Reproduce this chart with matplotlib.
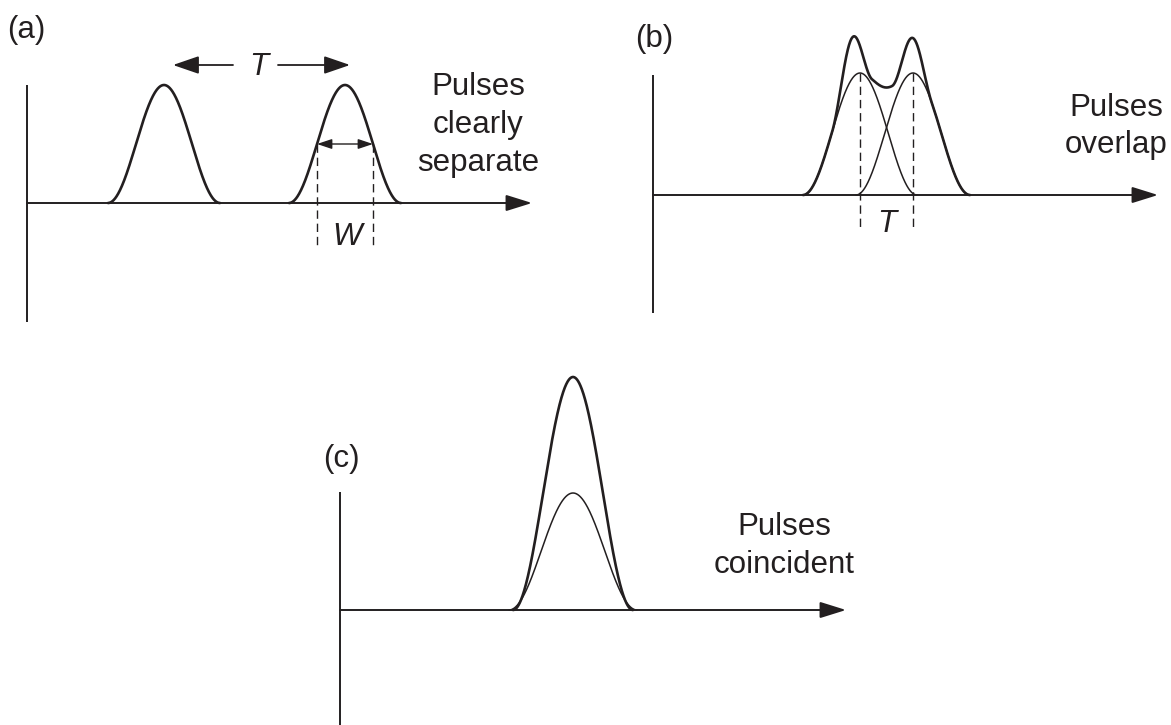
import numpy as np
import matplotlib
matplotlib.use('Agg')
import matplotlib.pyplot as plt

plt.rcParams['font.family'] = ['Liberation Sans', 'DejaVu Sans']

INK = '#231f20'
FONT_SIZE = 22.5

# pulse data, read off the picture (pixel units, measured from each panel's origin)
# (a) two pulses clearly separate
a_centers = [137, 318]
a_half_width = 56
a_height = 118

# (b) two pulses overlapping, plus the observed (summed) envelope
b_centers = [207, 260]
b_half_width = 57
b_height = 122
b_bump_centers = [199, 259]
b_bump_heights = [41, 35]
b_bump_half_width = 20
b_norm_power = 1.5

# (c) pulses coincident
c_center = 233
c_half_width = 64
c_height = 117
c_sum_half_width = 60
c_sum_height = 233

# panel layout: origin of the axes, top of y axis, bottom of y axis, arrow tip
panels = {
    'a': dict(origin=(27, 203), y_top=85, y_bottom=322, x_tip=532),
    'b': dict(origin=(653, 195), y_top=75, y_bottom=313, x_tip=1158),
    'c': dict(origin=(340, 610), y_top=492, y_bottom=725, x_tip=846),
}


def pulse(x, center, half_width, height):
    dx = x - center
    y = height * (0.5 + 0.5 * np.cos(np.pi * dx / half_width))
    return np.where(np.abs(dx) < half_width, y, 0.0)


def draw_axes(ax, p):
    x0, y0 = p['origin']
    ax.plot([x0, x0], [p['y_top'], p['y_bottom']], color=INK, lw=1.4, solid_capstyle='butt')
    ax.annotate('', xy=(p['x_tip'], y0), xytext=(x0, y0),
                arrowprops=dict(arrowstyle='-|>,head_length=16,head_width=5', mutation_scale=1,
                                lw=1.4, color=INK, shrinkA=0, shrinkB=0))


def draw_curve(ax, p, xs, ys, lw):
    x0, y0 = p['origin']
    mask = ys > 0
    # keep one zero point either side so the pulse meets the base line
    mask = mask | np.roll(mask, 1) | np.roll(mask, -1)
    ax.plot(x0 + xs[mask], y0 - ys[mask], color=INK, lw=lw, solid_capstyle='round')


def label(ax, x, y, s, **kw):
    ax.text(x, y, s, fontsize=FONT_SIZE, color=INK, ha='center', va='baseline', **kw)


fig = plt.figure(figsize=(11.71, 7.25), dpi=100)
ax = fig.add_axes([0, 0, 1, 1])
ax.set_xlim(0, 1171)
ax.set_ylim(725, 0)
ax.axis('off')

xs = np.linspace(0, 520, 2601)
dash = (0, (6, 3.5))

# ---- (a)
pa = panels['a']
draw_axes(ax, pa)
for c in a_centers:
    draw_curve(ax, pa, xs, pulse(xs, c, a_half_width, a_height), lw=1.9)
x0, y0 = pa['origin']
# W: full width at half maximum of the second pulse
w_left = x0 + a_centers[1] - a_half_width / 2
w_right = x0 + a_centers[1] + a_half_width / 2
w_y = y0 - a_height / 2
for wx in (w_left, w_right):
    ax.plot([wx, wx], [w_y, 247], color=INK, lw=1.0, linestyle=dash)
ax.annotate('', xy=(w_right, w_y), xytext=(w_left, w_y),
            arrowprops=dict(arrowstyle='<|-|>,head_length=9,head_width=3', mutation_scale=1,
                            lw=1.0, color=INK, shrinkA=0, shrinkB=0))
label(ax, (w_left + w_right) / 2 + 2, 245, 'W', style='italic')
# T: pulse period
t_y = 65
ax.annotate('', xy=(173, t_y), xytext=(233, t_y),
            arrowprops=dict(arrowstyle='-|>,head_length=16,head_width=5.5', mutation_scale=1,
                            lw=1.3, color=INK, shrinkA=0, shrinkB=0))
ax.annotate('', xy=(350, t_y), xytext=(278, t_y),
            arrowprops=dict(arrowstyle='-|>,head_length=16,head_width=5.5', mutation_scale=1,
                            lw=1.3, color=INK, shrinkA=0, shrinkB=0))
label(ax, 259, 75, 'T', style='italic')
label(ax, 26, 38, '(a)')
label(ax, 478, 95, 'Pulses')
label(ax, 478, 133, 'clearly')
label(ax, 478, 171, 'separate')

# ---- (b)
pb = panels['b']
draw_axes(ax, pb)
b_thin = [pulse(xs, c, b_half_width, b_height) for c in b_centers]
for ys in b_thin:
    draw_curve(ax, pb, xs, ys, lw=1.1)
b_total = (b_thin[0] ** b_norm_power + b_thin[1] ** b_norm_power) ** (1 / b_norm_power)
for c, h in zip(b_bump_centers, b_bump_heights):
    b_total = b_total + pulse(xs, c, b_bump_half_width, h)
draw_curve(ax, pb, xs, b_total, lw=1.9)
x0, y0 = pb['origin']
for c in b_centers:
    ax.plot([x0 + c, x0 + c], [y0 - b_height, 227], color=INK, lw=1.0, linestyle=dash)
label(ax, x0 + np.mean(b_centers), 232, 'T', style='italic')
label(ax, 654, 47, '(b)')
label(ax, 1116, 116, 'Pulses')
label(ax, 1116, 153, 'overlap')

# ---- (c)
pc = panels['c']
draw_axes(ax, pc)
draw_curve(ax, pc, xs, pulse(xs, c_center, c_half_width, c_height), lw=1.1)
draw_curve(ax, pc, xs, pulse(xs, c_center, c_sum_half_width, c_sum_height), lw=1.9)
label(ax, 341, 467, '(c)')
label(ax, 784, 535, 'Pulses')
label(ax, 784, 573, 'coincident')

fig.savefig('out.png', dpi=100)
